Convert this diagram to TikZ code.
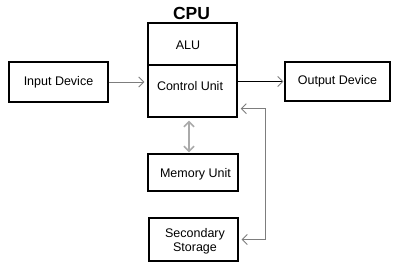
\documentclass[tikz,border=0pt]{standalone}
\usepackage{fontspec}
\setmainfont{Liberation Sans}
\usetikzlibrary{arrows.meta, positioning}
\definecolor{linegray}{RGB}{125, 125, 125}
\definecolor{lightgray}{RGB}{170, 170, 170}

\begin{document}
\begin{tikzpicture}[
    x=1pt, y=-1pt,
    >={Straight Barb[length=5pt, width=10pt]},
    unit/.style={draw, line width=1.4pt, inner sep=0pt},
    label text/.style={font=\fontsize{12.5}{15}\selectfont, inner sep=0pt},
    grey arrow/.style={->, linegray, line width=0.9pt}
]
\useasboundingbox (0,0) rectangle (400,265);

% CPU
\node[unit, minimum width=89pt, minimum height=42pt] (alu) at (192.5,44) {};
\node[unit, minimum width=89pt, minimum height=52pt] (cu) at (192.5,91) {};
\node[font=\fontsize{17.5}{20}\bfseries, inner sep=0pt] (cpu) at (191.5,13.5) {CPU};
\node[label text] (aluText) at (188,45) {ALU};
\node[label text] (cuText) at (190,86) {Control Unit};

% Devices
\node[unit, minimum width=99pt, minimum height=40pt, label text] (input) at (58.5,82) {Input Device};
\node[unit, minimum width=105pt, minimum height=39pt, label text] (output) at (337.5,81.5) {Output Device};
\node[unit, minimum width=90pt, minimum height=37pt] (memory) at (193,172.5) {};
\node[label text] (memText) at (195.5,174) {Memory Unit};
\node[unit, minimum width=89pt, minimum height=43pt] (storage) at (193.5,239.5) {};
\node[label text, align=center] (storeText) at (195,241) {Secondary\\[-1pt]Storage};

% Connections
\draw[grey arrow, shorten >=3pt] (input.east) -- (input.east -| cu.west);
\draw[-{Straight Barb[length=5pt, width=10pt, color=linegray]}, line width=0.9pt, black, shorten >=1pt]
    (cu.east |- output.west) -- (output.west);
\draw[<->, lightgray, line width=1.6pt, shorten <=3pt, shorten >=1pt]
    ([xshift=-3.5pt]cu.south) -- ([xshift=-3.5pt]cu.south |- memory.north);
\draw[<->, linegray, line width=0.9pt, shorten <=3pt, shorten >=3pt]
    ([yshift=9pt]cu.south east) -- ++(28,0) |- (storage.east);

\end{tikzpicture}
\end{document}
